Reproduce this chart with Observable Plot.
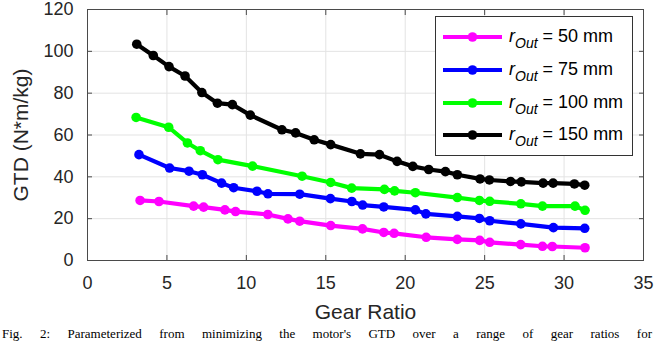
<!DOCTYPE html>
<html>
<head>
<meta charset="utf-8">
<script src="https://cdn.jsdelivr.net/npm/d3@7"></script>
<script src="https://cdn.jsdelivr.net/npm/@observablehq/plot@0.6"></script>
<style>
  html, body { margin: 0; padding: 0; background: #fff; }
  #wrap { position: relative; width: 654px; height: 341px; overflow: hidden; background: #fff; }
  #caption { position: absolute; left: 2px; top: 327px; width: 650px; font-family: "Liberation Serif", "Times New Roman", serif; font-size: 13px; line-height: 13px; color: #000; text-align: justify; text-align-last: justify; white-space: nowrap; }
  #legend { position: absolute; left: 435px; top: 16px; }
</style>
</head>
<body>
<div id="wrap"></div>
<script>
// ---- data ----
const seriesNames = ["r50", "r75", "r100", "r150"];
const seriesColors = ["#ff00ff", "#0000ff", "#00ff00", "#000000"];
const seriesLabels = ["50 mm", "75 mm", "100 mm", "150 mm"];

const gear50 = [3.31, 4.50, 6.68, 7.31, 8.65, 9.32, 11.35, 12.62, 13.36, 15.31, 17.31, 18.65, 19.30, 21.32, 23.28, 24.69, 25.32, 27.27, 28.64, 29.26, 31.32];
const gtd50  = [28.7, 28.2, 26.0, 25.5, 24.2, 23.4, 22.0, 19.9, 18.8, 16.7, 15.1, 13.4, 13.0, 11.1, 10.1, 9.6, 8.7, 7.6, 6.8, 6.7, 6.1];

const gear75 = [3.24, 5.17, 6.39, 7.23, 8.44, 9.20, 10.67, 11.36, 13.36, 15.29, 16.64, 17.32, 18.65, 20.64, 21.30, 23.28, 24.67, 25.32, 27.28, 29.33, 31.30];
const gtd75  = [50.6, 44.2, 42.7, 41.0, 37.0, 34.8, 33.1, 31.9, 31.7, 29.6, 28.2, 26.5, 25.6, 24.2, 22.3, 21.1, 20.1, 19.0, 17.5, 15.7, 15.4];

const gear100 = [3.06, 5.11, 6.29, 7.10, 8.21, 10.39, 13.51, 15.31, 16.63, 18.69, 19.33, 20.64, 23.28, 24.67, 25.32, 27.28, 28.64, 30.69, 31.32];
const gtd100  = [68.4, 63.7, 56.2, 52.5, 48.2, 45.1, 40.3, 37.3, 34.6, 34.0, 33.3, 32.4, 30.1, 28.7, 28.3, 27.1, 26.0, 26.0, 24.0];

const gear150 = [3.10, 4.14, 5.13, 6.14, 7.20, 8.18, 9.12, 10.25, 12.24, 13.10, 14.27, 15.31, 17.18, 18.38, 19.49, 20.48, 21.48, 22.53, 23.28, 24.71, 25.30, 26.63, 27.31, 28.68, 29.31, 30.65, 31.30];
const gtd150  = [103.4, 98.0, 92.7, 88.2, 80.3, 75.2, 74.5, 69.5, 62.5, 61.0, 57.7, 55.4, 51.0, 50.6, 47.4, 45.0, 43.5, 42.5, 41.0, 39.0, 38.5, 37.8, 37.6, 37.0, 37.0, 36.6, 36.0];

const xTicks = [0, 5, 10, 15, 20, 25, 30, 35];
const yTicks = [0, 20, 40, 60, 80, 100, 120];
const xLabel = "Gear Ratio";
const yLabel = "GTD (N*m/kg)";
const captionText = "Fig. 2:  Parameterized  from  minimizing  the  motor's  GTD  over  a  range  of  gear  ratios  for";

// ---- build table ----
const gears = [gear50, gear75, gear100, gear150];
const gtds = [gtd50, gtd75, gtd100, gtd150];
const data = [];
seriesNames.forEach((s, i) => gears[i].forEach((g, j) => data.push({series: s, gear: g, gtd: gtds[i][j]})));

const axisColor = "#4a4a4a";
const font = "'Liberation Sans', Arial, Helvetica, sans-serif";

const marks = [
  Plot.gridX(xTicks, {stroke: "#e3e3e3", strokeOpacity: 1}),
  Plot.gridY(yTicks, {stroke: "#e3e3e3", strokeOpacity: 1}),
];
seriesNames.forEach((s) => {
  const d = data.filter(r => r.series === s);
  marks.push(Plot.line(d, {x: "gear", y: "gtd", stroke: "series", strokeWidth: 4.2, strokeLinejoin: "round"}));
  marks.push(Plot.dot(d, {x: "gear", y: "gtd", fill: "series", r: 4.8, stroke: "none"}));
});
marks.push(
  Plot.frame({stroke: axisColor, strokeWidth: 1}),
  // inward ticks on all four sides
  Plot.axisX(xTicks, {anchor: "bottom", tickSize: 5, dy: -5, tickFormat: () => "", stroke: axisColor, label: null}),
  Plot.axisX(xTicks, {anchor: "top", tickSize: 5, dy: 5, tickFormat: () => "", stroke: axisColor, label: null}),
  Plot.axisY(yTicks, {anchor: "left", tickSize: 5, dx: 5, tickFormat: () => "", stroke: axisColor, label: null}),
  Plot.axisY(yTicks, {anchor: "right", tickSize: 5, dx: -5, tickFormat: () => "", stroke: axisColor, label: null}),
  // tick labels
  Plot.axisX(xTicks, {anchor: "bottom", tickSize: 0, tickPadding: 16, fontSize: 18, fill: "#262626", label: null}),
  Plot.axisY(yTicks, {anchor: "left", tickSize: 0, tickPadding: 14, fontSize: 18, fill: "#262626", label: null}),
  // axis titles
  Plot.text([xLabel], {frameAnchor: "bottom", dy: 52, text: d => d, fontSize: 21, fill: "#262626", lineAnchor: "middle", textAnchor: "middle"}),
  Plot.text([yLabel], {frameAnchor: "left", dx: -66, rotate: -90, text: d => d, fontSize: 21, fill: "#262626", lineAnchor: "middle", textAnchor: "middle"})
);

const chart = Plot.plot({
  width: 654,
  height: 341,
  marginLeft: 87,
  marginRight: 11,
  marginTop: 9,
  marginBottom: 81,
  style: {fontFamily: font, background: "#fff", overflow: "visible"},
  x: {domain: [0, 35], ticks: xTicks, axis: null},
  y: {domain: [0, 120], ticks: yTicks, axis: null},
  color: {domain: seriesNames, range: seriesColors},
  marks
});

const wrap = document.getElementById("wrap");
wrap.appendChild(chart);

// ---- legend (HTML overlay) ----
const ns = "http://www.w3.org/2000/svg";
const leg = document.createElementNS(ns, "svg");
leg.setAttribute("id", "legend");
leg.setAttribute("width", 198);
leg.setAttribute("height", 140);
const box = document.createElementNS(ns, "rect");
box.setAttribute("x", 0.5); box.setAttribute("y", 0.5);
box.setAttribute("width", 197); box.setAttribute("height", 139);
box.setAttribute("fill", "#fff"); box.setAttribute("stroke", "#333"); box.setAttribute("stroke-width", 1);
leg.appendChild(box);
const rowY = [21, 54, 87, 119];
seriesNames.forEach((s, i) => {
  const y = rowY[i];
  const ln = document.createElementNS(ns, "line");
  ln.setAttribute("x1", 8); ln.setAttribute("x2", 67);
  ln.setAttribute("y1", y); ln.setAttribute("y2", y);
  ln.setAttribute("stroke", seriesColors[i]); ln.setAttribute("stroke-width", 4.2);
  leg.appendChild(ln);
  const c = document.createElementNS(ns, "circle");
  c.setAttribute("cx", 37.5); c.setAttribute("cy", y); c.setAttribute("r", 4.8);
  c.setAttribute("fill", seriesColors[i]);
  leg.appendChild(c);
  const t = document.createElementNS(ns, "text");
  t.setAttribute("x", 74); t.setAttribute("y", y + 5);
  t.setAttribute("font-family", font); t.setAttribute("font-size", 18); t.setAttribute("fill", "#000");
  const t1 = document.createElementNS(ns, "tspan");
  t1.setAttribute("font-style", "italic"); t1.textContent = "r";
  const t2 = document.createElementNS(ns, "tspan");
  t2.setAttribute("font-style", "italic"); t2.setAttribute("font-size", 14); t2.setAttribute("dy", 6); t2.textContent = "Out";
  const t3 = document.createElementNS(ns, "tspan");
  t3.setAttribute("dy", -6); t3.textContent = " = " + seriesLabels[i];
  t.appendChild(t1); t.appendChild(t2); t.appendChild(t3);
  leg.appendChild(t);
});
wrap.appendChild(leg);

// ---- caption ----
const cap = document.createElement("div");
cap.id = "caption";
cap.textContent = captionText;
wrap.appendChild(cap);
</script>
</body>
</html>
